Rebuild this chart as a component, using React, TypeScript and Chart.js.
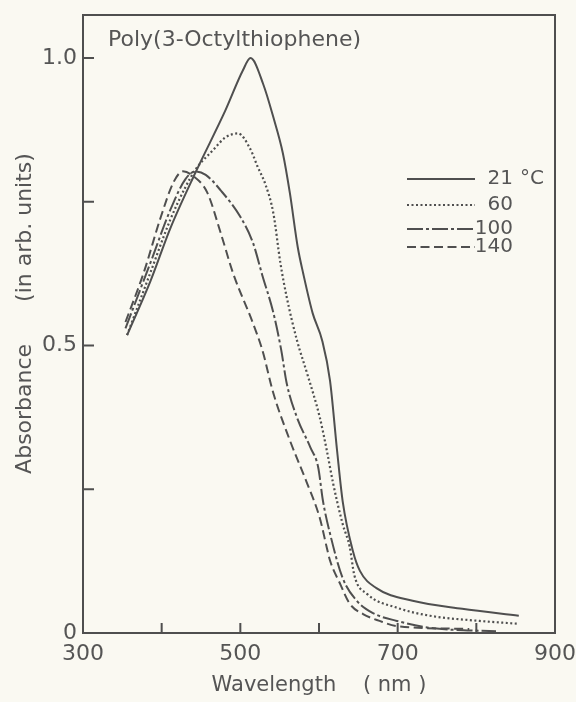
import React, { useEffect, useRef } from 'react';
import { Chart, registerables } from 'chart.js';

Chart.register(...registerables);

// ---- data ----
const titleText = 'Poly(3-Octylthiophene)';
const xTitle = 'Wavelength    ( nm )';
const yTitle = '   Absorbance      (in arb. units)';

const seriesLabels = ['21', '60', '100', '140'];
const firstUnit = '°C';

const wl21 = [356, 386, 411, 443, 481, 503, 513, 529, 542, 554, 563, 573, 580, 592, 604, 614, 623, 630, 643, 652, 673, 719, 782, 854];
const abs21 = [0.518, 0.613, 0.704, 0.801, 0.909, 0.978, 1.0, 0.955, 0.897, 0.835, 0.765, 0.671, 0.625, 0.556, 0.509, 0.439, 0.317, 0.23, 0.143, 0.108, 0.078, 0.056, 0.042, 0.03];

const wl60 = [356, 386, 411, 430, 443, 466, 481, 497, 513, 522, 532, 542, 551, 559, 572, 585, 601, 610, 618, 630, 639, 645, 661, 699, 741, 804, 854];
const abs60 = [0.518, 0.628, 0.719, 0.775, 0.806, 0.841, 0.862, 0.869, 0.841, 0.811, 0.78, 0.73, 0.643, 0.584, 0.509, 0.451, 0.375, 0.317, 0.26, 0.19, 0.15, 0.1, 0.068, 0.044, 0.03, 0.021, 0.016];

const wl100 = [354, 386, 411, 430, 443, 456, 475, 500, 516, 528, 542, 552, 559, 572, 589, 599, 605, 614, 630, 648, 668, 699, 741, 825];
const abs100 = [0.53, 0.645, 0.736, 0.789, 0.803, 0.797, 0.77, 0.724, 0.679, 0.622, 0.557, 0.492, 0.434, 0.375, 0.323, 0.288, 0.23, 0.173, 0.096, 0.056, 0.035, 0.021, 0.009, 0.003];

const wl140 = [354, 377, 399, 415, 427, 440, 458, 475, 491, 516, 528, 542, 563, 585, 601, 610, 614, 627, 639, 656, 677, 699, 791];
const abs140 = [0.541, 0.626, 0.724, 0.784, 0.803, 0.795, 0.766, 0.696, 0.625, 0.539, 0.492, 0.417, 0.335, 0.26, 0.2, 0.148, 0.126, 0.085, 0.051, 0.033, 0.021, 0.012, 0.007];

const xTickLabels = [300, 500, 700, 900];
const xTickMarks = [400, 500, 600, 700, 800];
const yTickLabels = [0, 0.5, 1.0];
const yTickMarks = [0.25, 0.5, 0.75, 1.0];

// ---- styling ----
const INK = '#4f4f4f';
const TEXT = '#555555';
const BG = '#faf9f2';
const FONT = "'DejaVu Sans', 'Liberation Sans', sans-serif";
const dashes: number[][] = [[], [2, 2.5], [16, 3, 3, 3], [9, 4.5]];

const toPoints = (xs: number[], ys: number[]) => xs.map((x, i) => ({ x, y: ys[i] }));

const decorPlugin = {
  id: 'decor',
  beforeDatasetsDraw(chart: any) {
    const { ctx, chartArea } = chart;
    const xs = chart.scales.x;
    const ys = chart.scales.y;
    ctx.save();
    ctx.strokeStyle = INK;
    ctx.lineWidth = 2;
    ctx.setLineDash([]);
    ctx.strokeRect(chartArea.left, chartArea.top, chartArea.right - chartArea.left, chartArea.bottom - chartArea.top);
    // inward tick marks
    ctx.beginPath();
    xTickMarks.forEach((v) => {
      const px = xs.getPixelForValue(v);
      ctx.moveTo(px, chartArea.bottom);
      ctx.lineTo(px, chartArea.bottom - 10);
    });
    yTickMarks.forEach((v) => {
      const py = ys.getPixelForValue(v);
      ctx.moveTo(chartArea.left, py);
      ctx.lineTo(chartArea.left + 11, py);
    });
    ctx.stroke();
    // title inside plot
    ctx.fillStyle = TEXT;
    ctx.font = `22px ${FONT}`;
    ctx.textBaseline = 'alphabetic';
    ctx.textAlign = 'left';
    ctx.fillText(titleText, chartArea.left + 25, chartArea.top + 31);
    ctx.restore();
  },
  afterDatasetsDraw(chart: any) {
    const { ctx, chartArea } = chart;
    const rowsY = [164, 190, 214, 232];
    const x0 = chartArea.left + 324;
    const x1 = chartArea.left + 392;
    const numRight = chartArea.left + 430;
    ctx.save();
    ctx.strokeStyle = INK;
    ctx.lineWidth = 2;
    ctx.fillStyle = TEXT;
    ctx.font = `20px ${FONT}`;
    ctx.textBaseline = 'middle';
    seriesLabels.forEach((lab, i) => {
      const y = chartArea.top + rowsY[i];
      ctx.setLineDash(dashes[i]);
      ctx.beginPath();
      ctx.moveTo(x0, y);
      ctx.lineTo(x1, y);
      ctx.stroke();
      ctx.textAlign = 'right';
      ctx.fillText(lab, numRight, y);
      if (i === 0) {
        ctx.textAlign = 'left';
        ctx.fillText(firstUnit, numRight + 7, y);
      }
    });
    ctx.restore();
  },
};

export default function App() {
  const canvasRef = useRef<HTMLCanvasElement | null>(null);

  useEffect(() => {
    document.body.style.margin = '0';
    document.body.style.background = BG;
    const canvas = canvasRef.current;
    if (!canvas) return;
    const allX = [wl21, wl60, wl100, wl140];
    const allY = [abs21, abs60, abs100, abs140];
    const chart = new Chart(canvas, {
      type: 'line',
      data: {
        datasets: seriesLabels.map((lab, i) => ({
          label: i === 0 ? `${lab} ${firstUnit}` : lab,
          data: toPoints(allX[i], allY[i]),
          borderColor: INK,
          borderWidth: i === 1 ? 2.2 : 2,
          borderDash: dashes[i],
          pointRadius: 0,
          fill: false,
          cubicInterpolationMode: 'monotone' as const,
        })),
      },
      options: {
        animation: false,
        responsive: false,
        maintainAspectRatio: false,
        layout: { padding: { top: 15, right: 21, left: 0, bottom: 0 } },
        plugins: {
          legend: { display: false },
          tooltip: { enabled: false },
        },
        scales: {
          x: {
            type: 'linear',
            min: 300,
            max: 900,
            grid: { display: false, drawTicks: false },
            border: { display: false },
            afterFit: (s: any) => {
              s.height = 69;
              s.paddingLeft = 0;
              s.paddingRight = 0;
            },
            ticks: {
              stepSize: 100,
              autoSkip: false,
              maxRotation: 0,
              padding: 8,
              color: TEXT,
              font: { family: FONT, size: 22 },
              callback: (v: any) => (xTickLabels.includes(Number(v)) ? String(v) : ''),
            },
            title: {
              display: true,
              text: xTitle,
              color: TEXT,
              font: { family: FONT, size: 21 },
              padding: { top: 0, bottom: 4 },
            },
          },
          y: {
            type: 'linear',
            min: 0,
            max: 1.075,
            grid: { display: false, drawTicks: false },
            border: { display: false },
            afterFit: (s: any) => {
              s.width = 83;
              s.paddingTop = 0;
              s.paddingBottom = 0;
            },
            ticks: {
              stepSize: 0.25,
              autoSkip: false,
              padding: 6,
              color: TEXT,
              font: { family: FONT, size: 22 },
              callback: (v: any) => {
                const n = Number(v);
                if (!yTickLabels.some((t) => Math.abs(t - n) < 1e-9)) return '';
                return n === 0 ? '0' : n.toFixed(1);
              },
            },
            title: {
              display: true,
              text: yTitle,
              color: TEXT,
              font: { family: FONT, size: 22 },
              padding: { top: 12, bottom: 0 },
            },
          },
        },
      },
      plugins: [decorPlugin],
    } as any);
    return () => chart.destroy();
  }, []);

  return (
    <div style={{ width: 576, height: 702, background: BG }}>
      <canvas ref={canvasRef} width={576} height={702} style={{ display: 'block', width: 576, height: 702 }} />
    </div>
  );
}
